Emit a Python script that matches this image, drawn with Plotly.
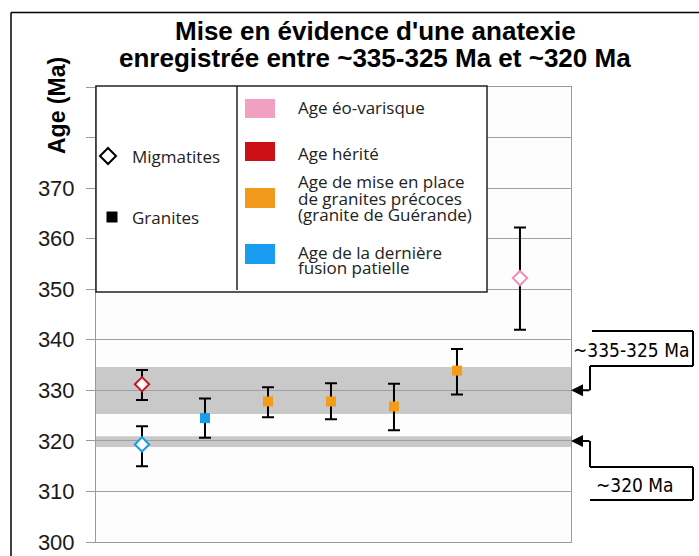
import plotly.graph_objects as go

# ---------------- data ----------------
title_lines = ["Mise en évidence d'une anatexie", "enregistrée entre ~335-325 Ma et ~320 Ma"]
y_title = "Age (Ma)"
y_tickvals = [300, 310, 320, 330, 340, 350, 360, 370, 380, 390]
y_ticktext = ["300", "310", "320", "330", "340", "350", "360", "370", "", ""]

# Migmatites (open diamonds)
mig_herite_x = [1]
mig_herite_y = [331.2]
mig_herite_plus = [2.8]
mig_herite_minus = [3.1]

mig_fusion_x = [1]
mig_fusion_y = [319.3]
mig_fusion_plus = [3.6]
mig_fusion_minus = [4.3]

mig_eo_x = [7]
mig_eo_y = [352.2]
mig_eo_plus = [10.0]
mig_eo_minus = [10.2]

# Granites (filled squares)
gra_fusion_x = [2]
gra_fusion_y = [324.5]
gra_fusion_plus = [3.9]
gra_fusion_minus = [3.9]

gra_precoce_x = [3, 4, 5, 6]
gra_precoce_y = [327.8, 327.8, 326.8, 333.9]
gra_precoce_plus = [2.8, 3.6, 4.5, 4.3]
gra_precoce_minus = [3.1, 3.5, 4.7, 4.7]

# Anatexis bands (Ma)
band_main = [325.3, 334.6]
band_late = [318.8, 320.9]
callout_targets = [330, 320]
callout_labels = ["~335-325 Ma", "~320 Ma"]

legend_symbols = ["Migmatites", "Granites"]
legend_colors = ["#f0a0c0", "#cc1016", "#f29a1c", "#1a9cf0"]
legend_texts = [
    ["Age éo-varisque"],
    ["Age hérité"],
    ["Age de mise en place", "de granites précoces", "(granite de Guérande)"],
    ["Age de la dernière", "fusion patielle"],
]

# ---------------- styling ----------------
W, H = 699, 556
L, R, T, B = 96, 571, 87, 542  # plot area in pixels
Y0, Y1 = 300, 390
RED, BLUE, ORANGE, PINK = "#d0141c", "#1a9de8", "#f39c1a", "#ee8fb5"
SANS = "Liberation Sans, Arial, sans-serif"
HUM = "Open Sans, Noto Sans, sans-serif"
COND = "DejaVu Sans Condensed, Liberation Sans Narrow, Arial Narrow, sans-serif"


def px(x):
    return (x - L) / (R - L)


def py(y):
    return (B - y) / (B - T)


def ypix(v):
    return B - (v - Y0) * (B - T) / (Y1 - Y0)


fig = go.Figure()

err = dict(type="data", symmetric=False, color="black", thickness=2, width=6)


def add(x, y, p, m, symbol, color, fill, lw, size):
    fig.add_trace(go.Scatter(
        x=x, y=y, mode="markers", showlegend=False, hoverinfo="skip",
        error_y=dict(err, array=p, arrayminus=m),
        marker=dict(symbol=symbol, size=size, color=fill,
                    line=dict(color=color, width=lw)),
    ))


add(mig_herite_x, mig_herite_y, mig_herite_plus, mig_herite_minus, "diamond", RED, "white", 2, 11)
add(mig_fusion_x, mig_fusion_y, mig_fusion_plus, mig_fusion_minus, "diamond", BLUE, "white", 2, 11)
add(mig_eo_x, mig_eo_y, mig_eo_plus, mig_eo_minus, "diamond", PINK, "white", 2, 11)
add(gra_fusion_x, gra_fusion_y, gra_fusion_plus, gra_fusion_minus, "square", BLUE, BLUE, 0, 10)
add(gra_precoce_x, gra_precoce_y, gra_precoce_plus, gra_precoce_minus, "square", ORANGE, ORANGE, 0, 10)

shapes = []
# grey bands (below gridlines)
for b in (band_main, band_late):
    shapes.append(dict(type="rect", xref="paper", yref="y", x0=0, x1=1, y0=b[0], y1=b[1],
                       fillcolor="#c9c9c9", line=dict(width=0), layer="below"))

# legend box
shapes.append(dict(type="rect", xref="paper", yref="paper", x0=px(96), x1=px(487), y0=py(292), y1=py(86),
                   fillcolor="white", line=dict(color="#222", width=1.5), layer="above"))
shapes.append(dict(type="line", xref="paper", yref="paper", x0=px(237), x1=px(237), y0=py(290), y1=py(86),
                   line=dict(color="#222", width=1.5), layer="above"))
# legend symbols
cx, cy, r = 108, 156, 8
shapes.append(dict(type="path", xref="paper", yref="paper",
                   path=f"M {px(cx-r)} {py(cy)} L {px(cx)} {py(cy-r)} L {px(cx+r)} {py(cy)} L {px(cx)} {py(cy+r)} Z",
                   fillcolor="white", line=dict(color="black", width=2), layer="above"))
shapes.append(dict(type="rect", xref="paper", yref="paper", x0=px(106.5), x1=px(117.5), y0=py(222.5), y1=py(211.5),
                   fillcolor="black", line=dict(width=0), layer="above"))
sw_y = [(99, 118), (142, 161), (188, 208), (244, 264)]
for col, (a, b) in zip(legend_colors, sw_y):
    shapes.append(dict(type="rect", xref="paper", yref="paper", x0=px(245), x1=px(275), y0=py(b), y1=py(a),
                       fillcolor=col, line=dict(width=0), layer="above"))

# callouts
blk = dict(color="black", width=2)
t1 = ypix(callout_targets[0])
t2 = ypix(callout_targets[1])
segs = [
    ((592, 331), (693, 331)), ((693, 331), (693, 366)), ((693, 366), (590, 366)), ((590, 366), (590, t1)),
    ((590, t2), (590, 467)), ((590, 467), (693, 467)), ((693, 467), (693, 500)), ((693, 500), (590, 500)),
]
for (xa, ya), (xb, yb) in segs:
    shapes.append(dict(type="line", xref="paper", yref="paper", x0=px(xa), y0=py(ya), x1=px(xb), y1=py(yb),
                       line=blk, layer="above"))
# outer frame
shapes.append(dict(type="line", xref="paper", yref="paper", x0=px(11), x1=px(700), y0=py(12.5), y1=py(12.5),
                   line=dict(color="black", width=1.5)))
shapes.append(dict(type="line", xref="paper", yref="paper", x0=px(11), x1=px(11), y0=py(12.5), y1=py(560),
                   line=dict(color="black", width=1.5)))

ann = []
for i, (line, yy) in enumerate(zip(title_lines, (31, 58))):
    ann.append(dict(xref="paper", yref="paper", x=px(375), y=py(yy), text=f"<b>{line}</b>", showarrow=False,
                    xanchor="center", yanchor="middle", font=dict(family=SANS, size=26, color="black")))
ann.append(dict(xref="paper", yref="paper", x=px(57), y=py(106), text=f"<b>{y_title}</b>", showarrow=False,
                textangle=-90, xanchor="center", yanchor="middle", font=dict(family=SANS, size=23, color="black")))
for txt, yy in zip(legend_symbols, (156, 217)):
    ann.append(dict(xref="paper", yref="paper", x=px(130), y=py(yy), text=txt, showarrow=False,
                    xanchor="left", yanchor="middle", font=dict(family=HUM, size=17, color="#222")))
line_y = [[107], [152], [180, 197, 213], [251, 266]]
for lines, ys in zip(legend_texts, line_y):
    for txt, yy in zip(lines, ys):
        ann.append(dict(xref="paper", yref="paper", x=px(296), y=py(yy + 1), text=txt, showarrow=False,
                        xanchor="left", yanchor="middle", font=dict(family=HUM, size=17, color="#222")))
for lab, (xx, yy) in zip(callout_labels, ((631, 350), (635, 485))):
    ann.append(dict(xref="paper", yref="paper", x=px(xx), y=py(yy), text=lab, showarrow=False,
                    xanchor="center", yanchor="middle", font=dict(family=COND, size=19, color="black")))
for v in callout_targets:
    ann.append(dict(xref="paper", yref="y", x=1, y=v, ax=20, ay=0, text="", showarrow=True,
                    arrowhead=2, arrowsize=1.2, arrowwidth=2, arrowcolor="black", standoff=0))

fig.update_layout(
    width=W, height=H, autosize=False,
    margin=dict(l=L, r=W - R, t=T, b=H - B, pad=0, autoexpand=False),
    paper_bgcolor="white", plot_bgcolor="#fdfdfd",
    showlegend=False, hovermode=False,
    shapes=shapes, annotations=ann,
    xaxis=dict(range=[0.27, 7.81], showgrid=False, zeroline=False, showticklabels=False, ticks="",
               automargin=False,
               showline=True, mirror=True, linecolor="#9a9a9a", linewidth=1),
    yaxis=dict(range=[Y0, Y1], tickvals=y_tickvals, ticktext=y_ticktext, showgrid=True,
               automargin=False,
               gridcolor="#9f9f9f", gridwidth=1, zeroline=False, ticks="outside", ticklen=9,
               tickcolor="#9a9a9a", showline=True, mirror=True, linecolor="#9a9a9a", linewidth=1,
               ticklabelstandoff=7, tickfont=dict(family=SANS, size=22, color="#1a1a1a")),
)

fig.write_html("out.html", config={"displayModeBar": False},
               post_script="document.body.style.margin='0';document.body.style.overflow='hidden';")
